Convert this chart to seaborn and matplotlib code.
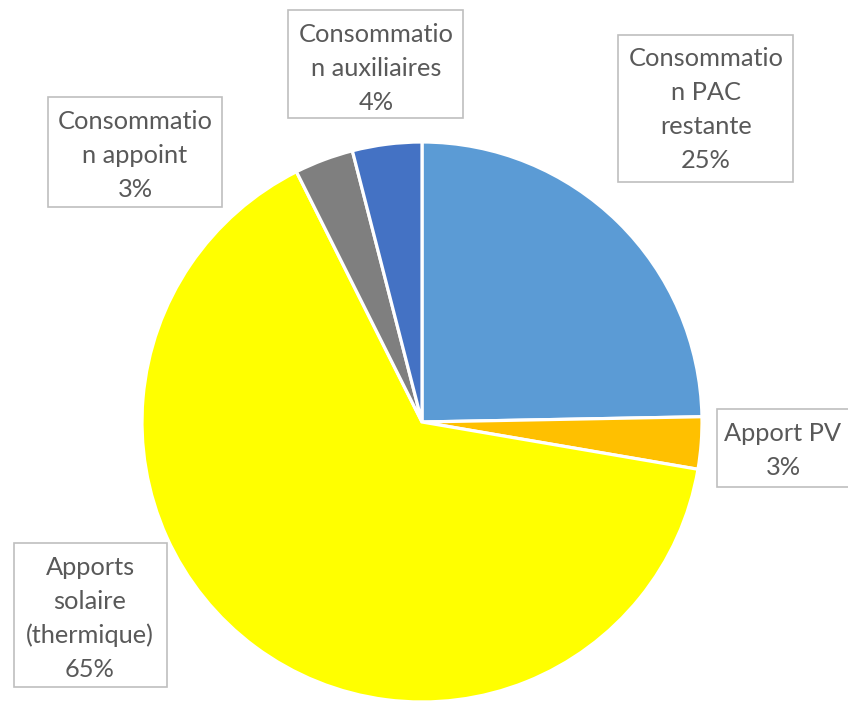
import matplotlib
matplotlib.use("Agg")
import matplotlib.pyplot as plt
from matplotlib.patches import Rectangle
import seaborn as sns

# Energy balance shares (%)
categories = [
    "Consommation PAC restante",
    "Apport PV",
    "Apports solaire (thermique)",
    "Consommation appoint",
    "Consommation auxiliaires",
]
values = [24.7, 3.0, 64.9, 3.4, 4.0]
label_lines = [
    ["Consommatio", "n PAC", "restante"],
    ["Apport PV"],
    ["Apports", "solaire", "(thermique)"],
    ["Consommatio", "n appoint"],
    ["Consommatio", "n auxiliaires"],
]
colors = ["#5B9BD5", "#FFC000", "#FFFF00", "#7F7F7F", "#4472C4"]

sns.set_theme(style="white")
plt.rcParams["font.family"] = ["Lato", "DejaVu Sans"]

W, H = 848, 701
fig = plt.figure(figsize=(W / 100, H / 100), dpi=100)
fig.patch.set_facecolor("white")

# pie axes: centre (422, 422) px, radius 280 px
cx, cy, r = 422, 422, 280
ax = fig.add_axes([(cx - r) / W, (H - cy - r) / H, 2 * r / W, 2 * r / H])
ax.pie(values, colors=colors, startangle=90, counterclock=False, radius=1,
       wedgeprops=dict(edgecolor="white", linewidth=2.3))
ax.set_xlim(-1, 1)
ax.set_ylim(-1, 1)
ax.set_aspect("auto")
ax.axis("off")

# label boxes: (left, top, right, bottom) px, centre x, first baseline
boxes = [
    (618, 35, 793, 182, 706, 66),
    (717, 409, 852, 487, 783, 441),
    (14, 543, 167, 687, 90, 575),
    (48, 97, 222, 207, 135, 129),
    (288, 10, 463, 118, 376, 42),
]
line_step = 34
text_color = "#595959"

# scale font so that the long word spans ~155 px
probe = fig.text(0, 0, "Consommatio", fontsize=20)
fig.canvas.draw()
wpx = probe.get_window_extent(fig.canvas.get_renderer()).width
probe.remove()
fs = 20 * 155 / wpx

total = sum(values)
for lines, v, (l, t, rgt, b, xc, y0) in zip(label_lines, values, boxes):
    fig.add_artist(Rectangle((l / W, 1 - b / H), (rgt - l) / W, (b - t) / H,
                             transform=fig.transFigure, facecolor="white",
                             edgecolor="#BFBFBF", linewidth=1.2))
    all_lines = lines + [f"{round(100 * v / total):d}%"]
    for i, s in enumerate(all_lines):
        fig.text(xc / W, 1 - (y0 + i * line_step) / H, s, ha="center",
                 va="baseline", fontsize=fs, color=text_color)

fig.savefig("out.png", dpi=100)
